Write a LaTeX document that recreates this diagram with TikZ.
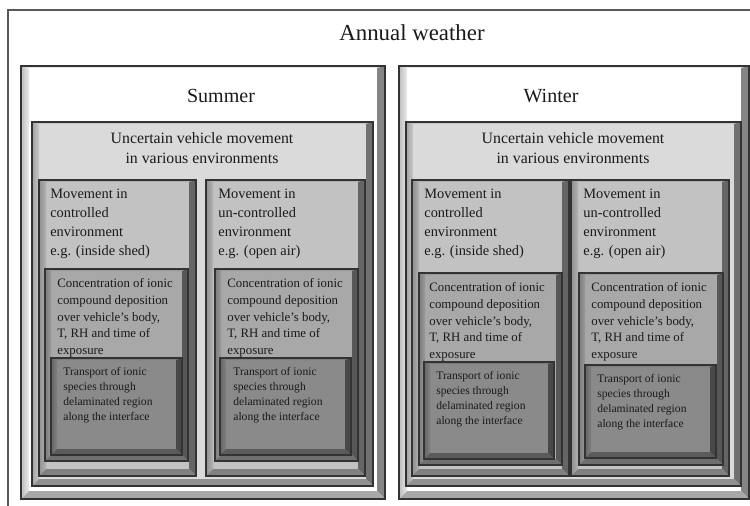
\documentclass[tikz,border=0pt]{standalone}
\usepackage{fontspec}
\setmainfont{Liberation Serif}
\usetikzlibrary{calc}

\definecolor{txtgray}{HTML}{1A1A1A}
\definecolor{lineGray}{HTML}{333333}
\definecolor{faceUnc}{HTML}{DADADA}
\definecolor{faceMov}{HTML}{C2C2C2}
\definecolor{faceConc}{HTML}{A8A8A8}
\definecolor{faceTrans}{HTML}{8A8A8A}

% bevelled box: name, x1, y1, x2, y2, face colour, bevel width
\newcommand{\bevbox}[7]{%
  \coordinate (#1-nw) at (#2,#3);
  \coordinate (#1-se) at (#4,#5);
  \fill[#6] (#2,#3) rectangle (#4,#5);
  \fill[#6!90!black] (#2,#3) -- (#4,#3) -- (#4-#7,#3+2) -- (#2+#7,#3+2) -- cycle;
  \shade[left color=#6!74!black, right color=#6!92!black] (#2,#3) -- (#2+#7,#3+2) -- (#2+#7,#5-#7) -- (#2,#5) -- cycle;
  \fill[#6!52!black] (#4,#3) -- (#4,#5) -- (#4-#7,#5-#7) -- (#4-#7,#3+2) -- cycle;
  \fill[#6!66!black] (#2,#5) -- (#4,#5) -- (#4-#7,#5-#7) -- (#2+#7,#5-#7) -- cycle;
  \draw[boxline] (#2,#3) rectangle (#4,#5);
}

\tikzset{
  boxline/.style={draw=lineGray, line width=0.6pt},
  frameline/.style={draw=black!65, line width=1pt},
  weathertext/.style={font=\fontsize{13}{15}\selectfont, text=txtgray},
  seasontext/.style={font=\fontsize{11.4}{13}\selectfont, text=txtgray},
  unctext/.style={font=\fontsize{9}{11.3}\selectfont, align=center, text=txtgray},
  movtext/.style={font=\fontsize{8.2}{10.8}\selectfont, align=left, anchor=north west, inner sep=0pt, text=txtgray},
  conctext/.style={font=\fontsize{7.3}{9.6}\selectfont, align=left, anchor=north west, inner sep=0pt, text=txtgray},
  transtext/.style={font=\fontsize{6.6}{8.5}\selectfont, align=left, anchor=north west, inner sep=0pt, text=txtgray}
}

\begin{document}
\begin{tikzpicture}[x=0.02cm, y=-0.02cm]
  \useasboundingbox (0,0) rectangle (750,506);
  \clip (0,0) rectangle (750,506);
  \fill[white] (0,0) rectangle (750,506);

  % annual frame
  \draw[frameline] (8,520) -- (8,10) -- (760,10);
  \node[weathertext] (annual) at (412,33) {Annual weather};

  % summer
  \bevbox{sum}{21}{66}{385}{499}{white}{8}
  \node[seasontext] (summer) at (221,96) {Summer};
  \bevbox{sunc}{32}{122}{373}{486}{faceUnc}{7}
  \node[unctext] (suncl) at (202,148) {Uncertain vehicle movement\\in various environments};
  \bevbox{smovl}{39}{180}{196}{476}{faceMov}{7}
  \bevbox{smovr}{206}{180}{365}{476}{faceMov}{7}
  \node[movtext] (smovltxt) at (50,189) {Movement in\\controlled\\environment\\e.g. (inside shed)};
  \node[movtext] (smovrtxt) at (218,189) {Movement in\\un-controlled\\environment\\e.g. (open air)};
  \bevbox{sconcl}{45}{269}{188}{461}{faceConc}{6}
  \bevbox{sconcr}{215}{269}{358}{461}{faceConc}{6}
  \node[conctext] (sconcltxt) at (57,278) {Concentration of ionic\\compound deposition\\over vehicle’s body,\\T, RH and time of\\exposure};
  \node[conctext] (sconcrtxt) at (227,278) {Concentration of ionic\\compound deposition\\over vehicle’s body,\\T, RH and time of\\exposure};
  \bevbox{stransl}{51}{358}{182}{455}{faceTrans}{6}
  \bevbox{stransr}{220}{358}{351}{455}{faceTrans}{6}
  \node[transtext] (stransltxt) at (63,367) {Transport of ionic\\species through\\delaminated region\\along the interface};
  \node[transtext] (stransrtxt) at (233,367) {Transport of ionic\\species through\\delaminated region\\along the interface};

  % winter
  \bevbox{win}{399}{66}{749}{499}{white}{8}
  \node[seasontext] (winter) at (551,96) {Winter};
  \bevbox{wunc}{406}{122}{741}{486}{faceUnc}{7}
  \node[unctext] (wuncl) at (573,148) {Uncertain vehicle movement\\in various environments};
  \bevbox{wmovl}{412}{180}{569}{476}{faceMov}{7}
  \bevbox{wmovr}{571}{180}{729}{476}{faceMov}{7}
  \node[movtext] (wmovltxt) at (424,189) {Movement in\\controlled\\environment\\e.g. (inside shed)};
  \node[movtext] (wmovrtxt) at (583,189) {Movement in\\un-controlled\\environment\\e.g. (open air)};
  \bevbox{wconcl}{419}{273}{562}{465}{faceConc}{6}
  \bevbox{wconcr}{579}{273}{723}{465}{faceConc}{6}
  \node[conctext] (wconcltxt) at (429,282) {Concentration of ionic\\compound deposition\\over vehicle’s body,\\T, RH and time of\\exposure};
  \node[conctext] (wconcrtxt) at (591,282) {Concentration of ionic\\compound deposition\\over vehicle’s body,\\T, RH and time of\\exposure};
  \bevbox{wtransl}{424}{362}{554}{459}{faceTrans}{6}
  \bevbox{wtransr}{585}{365}{716}{458}{faceTrans}{6}
  \node[transtext] (wtransltxt) at (436,371) {Transport of ionic\\species through\\delaminated region\\along the interface};
  \node[transtext] (wtransrtxt) at (597,374) {Transport of ionic\\species through\\delaminated region\\along the interface};
\end{tikzpicture}
\end{document}
